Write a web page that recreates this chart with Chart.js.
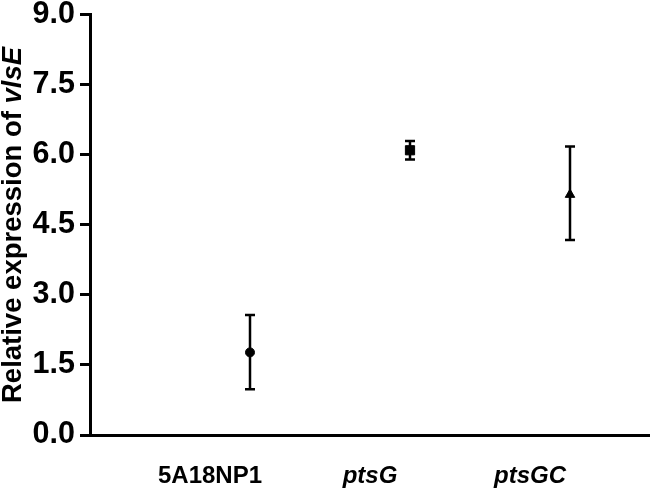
<!DOCTYPE html>
<html>
<head>
<meta charset="utf-8">
<script src="https://cdn.jsdelivr.net/npm/chart.js@4"></script>
<style>
  html, body { margin: 0; padding: 0; background: #fff; }
  canvas { display: block; }
</style>
</head>
<body>
<canvas id="myChart" width="650" height="497"></canvas>
<script>
// categories (x position 1, 2, 3)
const strains = ['5A18NP1', 'ptsG', 'ptsGC'];
// mean values
const means = [1.77, 6.1, 5.15];
// error bar ends
const lows = [0.98, 5.9, 4.18];
const highs = [2.57, 6.3, 6.18];
// y-axis ticks
const yTicks = [0, 1.5, 3.0, 4.5, 6.0, 7.5, 9.0];

const FONT = "'Liberation Sans', Arial, Helvetica, sans-serif";

// error bars drawn through the scales
const errorBars = {
    id: 'errorBars',
    afterDatasetsDraw(chart) {
        const ctx = chart.ctx;
        const x = chart.scales.x;
        const y = chart.scales.y;
        ctx.save();
        ctx.strokeStyle = '#000';
        ctx.lineWidth = 2.5;
        strains.forEach((s, i) => {
            const px = x.getPixelForValue(i + 1);
            const top = y.getPixelForValue(highs[i]);
            const bot = y.getPixelForValue(lows[i]);
            ctx.beginPath();
            ctx.moveTo(px, top);
            ctx.lineTo(px, bot);
            ctx.moveTo(px - 5, top);
            ctx.lineTo(px + 5, top);
            ctx.moveTo(px - 5, bot);
            ctx.lineTo(px + 5, bot);
            ctx.stroke();
        });
        ctx.restore();
    }
};

// y title with the italic gene name
const yTitle = {
    id: 'yTitle',
    afterDraw(chart) {
        const ctx = chart.ctx;
        const area = chart.chartArea;
        const plain = 'Relative expression of ';
        const gene = 'vlsE';
        const fPlain = 'bold 27.5px ' + FONT;
        const fItal = 'italic bold 27.5px ' + FONT;
        ctx.save();
        ctx.translate(13, (area.top + area.bottom) / 2);
        ctx.rotate(-Math.PI / 2);
        ctx.fillStyle = '#000';
        ctx.textBaseline = 'middle';
        ctx.textAlign = 'left';
        ctx.font = fPlain;
        const w1 = ctx.measureText(plain).width;
        ctx.font = fItal;
        const w2 = ctx.measureText(gene).width;
        let start = -(w1 + w2) / 2;
        ctx.font = fPlain;
        ctx.fillText(plain, start, 0);
        ctx.font = fItal;
        ctx.fillText(gene, start + w1, 0);
        ctx.restore();
    }
};

const ctx = document.getElementById('myChart');
const myChart = new Chart(ctx, {
    type: 'scatter',
    data: {
        datasets: [{
            data: means.map((v, i) => ({ x: i + 1, y: v })),
            pointStyle: ['circle', 'rect', 'triangle'],
            pointRadius: [4.5, 6.5, 5.5],
            pointBackgroundColor: '#000',
            pointBorderColor: '#000',
            pointBorderWidth: 1
        }]
    },
    options: {
        responsive: false,
        animation: false,
        devicePixelRatio: 1,
        layout: { autoPadding: false, padding: 0 },
        plugins: {
            legend: { display: false },
            tooltip: { enabled: false }
        },
        scales: {
            x: {
                type: 'linear',
                min: 0,
                max: 3.5,
                afterBuildTicks: (scale) => {
                    scale.ticks = strains.map((s, i) => ({ value: i + 1 }));
                },
                afterFit: (scale) => { scale.height = 62; },
                border: { display: true, color: '#000', width: 3 },
                grid: { display: false, drawTicks: false },
                ticks: {
                    color: '#000',
                    padding: 27,
                    labelOffset: -40,
                    maxRotation: 0,
                    autoSkip: false,
                    callback: (v) => strains[v - 1] || '',
                    font: (c) => ({
                        family: FONT,
                        size: 24,
                        weight: 'bold',
                        style: c.tick && c.tick.value > 1 ? 'italic' : 'normal'
                    })
                }
            },
            y: {
                min: 0,
                max: 9,
                afterBuildTicks: (scale) => {
                    scale.ticks = yTicks.map(v => ({ value: v }));
                },
                afterFit: (scale) => { scale.width = 90; },
                border: { display: true, color: '#000', width: 3 },
                grid: {
                    drawOnChartArea: false,
                    drawTicks: true,
                    tickLength: 10,
                    tickWidth: 3,
                    tickColor: '#000'
                },
                ticks: {
                    color: '#000',
                    padding: 5,
                    callback: (v) => v.toFixed(1),
                    font: { family: FONT, size: 30.5, weight: 'bold', lineHeight: 0.65 }
                }
            }
        }
    },
    plugins: [errorBars, yTitle]
});
</script>
</body>
</html>
